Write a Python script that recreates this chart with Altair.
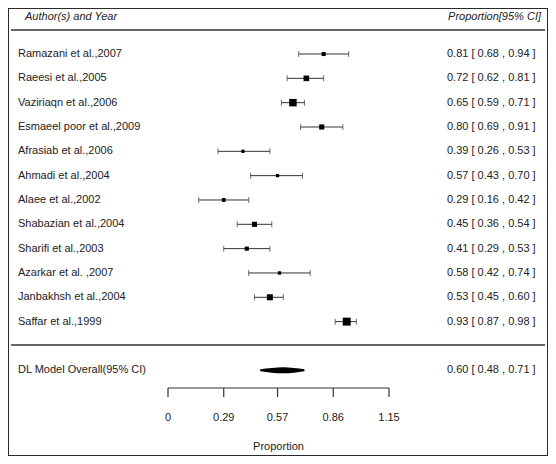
import altair as alt
import pandas as pd

# ---- data ----
authors = [
    "Ramazani et al.,2007", "Raeesi et al.,2005", "Vaziriaqn et al.,2006",
    "Esmaeel poor et al.,2009", "Afrasiab et al.,2006", "Ahmadi et al.,2004",
    "Alaee et al.,2002", "Shabazian et al.,2004", "Sharifi et al.,2003",
    "Azarkar  et al. ,2007", "Janbakhsh  et al.,2004", "Saffar et al.,1999",
]
estimates = [0.81, 0.72, 0.65, 0.80, 0.39, 0.57, 0.29, 0.45, 0.41, 0.58, 0.53, 0.93]
lower = [0.68, 0.62, 0.59, 0.69, 0.26, 0.43, 0.16, 0.36, 0.29, 0.42, 0.45, 0.87]
upper = [0.94, 0.81, 0.71, 0.91, 0.53, 0.70, 0.42, 0.54, 0.53, 0.74, 0.60, 0.98]
weights = [5.3, 9.9, 17.4, 8.2, 3.3, 3.3, 4.6, 8.2, 5.3, 3.6, 11.2, 19.7]

overall_label = "DL Model Overall(95% CI)"
overall_est, overall_lo, overall_hi = 0.60, 0.48, 0.71

tick_values = [0, 0.29, 0.57, 0.86, 1.15]
tick_labels = ["0", "0.29", "0.57", "0.86", "1.15"]
header_left = "Author(s) and Year"
header_right = "Proportion[95% CI]"
x_title = "Proportion"

# ---- layout ----
W, H = 540, 448
FONT = "Liberation Sans"
TXT = "#222222"
LINE = "#333333"

xs = alt.Scale(domain=[-0.8326, 1.9774], nice=False, zero=False)
ys = alt.Scale(domain=[-1.8907, 16.523], nice=False, zero=False, reverse=True)

studies = pd.DataFrame({
    "author": authors, "estimate": estimates, "lower": lower,
    "upper": upper, "weight": weights, "row": list(range(len(authors))),
})
studies["ci"] = [f"{e:.2f} [ {l:.2f} , {h:.2f} ]" for e, l, h in zip(estimates, lower, upper)]

overall_row = len(authors) + 1
overall_df = pd.DataFrame({
    "label": [overall_label], "row": [overall_row],
    "ci": [f"{overall_est:.2f} [ {overall_lo:.2f} , {overall_hi:.2f} ]"],
})
diamond = pd.DataFrame({
    "x": [overall_lo, overall_est, overall_hi],
    "half": [0.3, 1.0, 0.3],
    "row": [overall_row] * 3,
})

ticks_df = pd.DataFrame({"v": tick_values, "lab": tick_labels})
axis_df = pd.DataFrame({"a": [tick_values[0]], "b": [tick_values[-1]],
                        "mid": [(tick_values[0] + tick_values[-1]) / 2], "t": [x_title]})
header_df = pd.DataFrame({"l": [header_left], "r": [header_right]})


def X(f):
    return alt.X(f, type="quantitative", scale=xs, axis=None)


Y = alt.Y("row:Q", scale=ys, axis=None)

base = alt.Chart(studies)

whisk = base.mark_rule(color=LINE, strokeWidth=1).encode(x=X("lower"), x2="upper", y=Y)
caps = base.transform_fold(["lower", "upper"], as_=["end", "val"]).mark_tick(
    orient="vertical", size=6, thickness=1, color=LINE
).encode(x=X("val"), y=Y)
boxes = base.mark_square(color="#000000", opacity=1).encode(
    x=X("estimate"), y=Y,
    size=alt.Size("weight:Q", scale=alt.Scale(domain=[0, 20], range=[0, 64]), legend=None),
)
names = base.mark_text(align="left", baseline="middle", font=FONT, fontSize=11, color=TXT).encode(
    x=alt.value(10), y=Y, text="author:N")
cis = base.mark_text(align="left", baseline="middle", font=FONT, fontSize=11, color=TXT).encode(
    x=alt.value(439), y=Y, text="ci:N")

ov = alt.Chart(overall_df)
ov_name = ov.mark_text(align="left", baseline="middle", font=FONT, fontSize=11, color=TXT).encode(
    x=alt.value(10), y=Y, text="label:N")
ov_ci = ov.mark_text(align="left", baseline="middle", font=FONT, fontSize=11, color=TXT).encode(
    x=alt.value(439), y=Y, text="ci:N")
dia = alt.Chart(diamond).transform_calculate(
    y1="datum.row - 0.125 * datum.half", y2="datum.row + 0.125 * datum.half"
).mark_area(color="#000000", orient="vertical", interpolate="monotone").encode(
    x=X("x"), y=alt.Y("y1:Q", scale=ys, axis=None), y2="y2:Q")

hd = alt.Chart(header_df)
h_left = hd.mark_text(align="left", baseline="middle", font=FONT, fontSize=11,
                      fontStyle="italic", color=TXT).encode(x=alt.value(17), y=alt.value(9), text="l:N")
h_right = hd.mark_text(align="right", baseline="middle", font=FONT, fontSize=11,
                       fontStyle="italic", color=TXT).encode(x=alt.value(533), y=alt.value(9), text="r:N")
h_line = hd.mark_rule(color=LINE, strokeWidth=1.5).encode(
    x=alt.value(3), x2=alt.value(537), y=alt.value(22))
sep_line = hd.mark_rule(color=LINE, strokeWidth=1.5).encode(
    x=alt.value(3), x2=alt.value(537), y=alt.value(337))

ax = alt.Chart(axis_df)
ax_line = ax.mark_rule(color=LINE, strokeWidth=1.2).encode(x=X("a"), x2="b", y=alt.value(380))
ax_title = ax.mark_text(align="center", baseline="middle", font=FONT, fontSize=11, color=TXT).encode(
    x=X("mid"), y=alt.value(439), text="t:N")
tk = alt.Chart(ticks_df)
tk_marks = tk.mark_rule(color=LINE, strokeWidth=1.2).encode(x=X("v"), y=alt.value(380), y2=alt.value(389))
tk_labels = tk.mark_text(align="center", baseline="middle", font=FONT, fontSize=11, color=TXT).encode(
    x=X("v"), y=alt.value(410), text="lab:N")

chart = alt.layer(
    h_line, sep_line, h_left, h_right,
    whisk, caps, boxes, names, cis,
    dia, ov_name, ov_ci,
    ax_line, tk_marks, tk_labels, ax_title,
).properties(
    width=W, height=H, background="white", padding=0,
    autosize=alt.AutoSizeParams(type="none"),
).configure_view(stroke="#2a2a2a", strokeWidth=2)

chart.save("out.html", embed_options={"renderer": "svg", "actions": False})
